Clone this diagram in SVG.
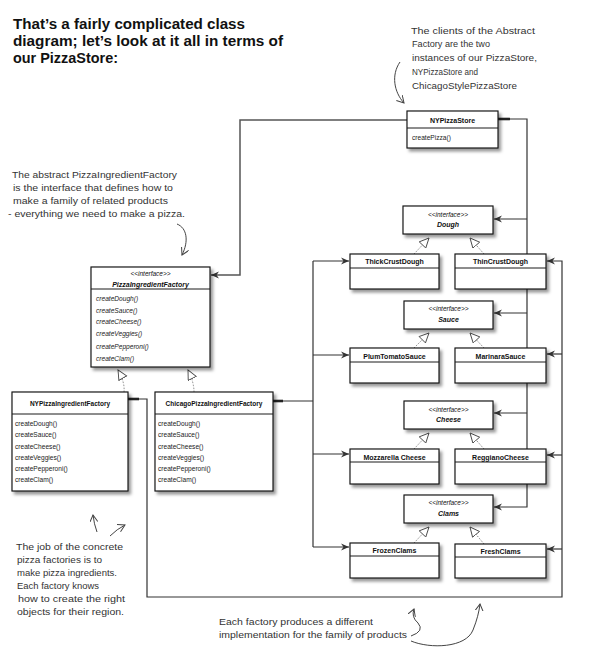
<svg xmlns="http://www.w3.org/2000/svg" width="609" height="656" viewBox="0 0 609 656">
<style>
.box{fill:#fff;stroke:#1a1a1a;stroke-width:1.2;filter:url(#sh)}
.dv{stroke:#1a1a1a;stroke-width:1}
.cn{font-family:"Liberation Sans",Arial,sans-serif;font-size:7px;font-weight:bold;text-anchor:middle;fill:#111}
.fn{font-family:"Liberation Sans",Arial,sans-serif;font-size:6.5px;font-weight:bold;text-anchor:middle;fill:#111}
.st{font-family:"Liberation Sans",Arial,sans-serif;font-size:6.5px;font-style:italic;text-anchor:middle;fill:#111}
.m{font-family:"Liberation Sans",Arial,sans-serif;font-size:6.6px;fill:#222}
.it{font-style:italic}
.conn{fill:none;stroke:#333;stroke-width:1.2}
.gry{fill:none;stroke:#555;stroke-width:1.5}
.stub{fill:none;stroke:#222;stroke-width:2.6}
.real{fill:none;stroke:#777;stroke-width:0.9;stroke-dasharray:1.5 1.5}
.hand{font-family:"Liberation Sans",Arial,sans-serif;font-size:9px;fill:#333}
.ha{fill:none;stroke:#444;stroke-width:1}
.title{font-family:"Liberation Sans",Arial,sans-serif;font-weight:bold;font-size:14px;fill:#111}
</style>
<defs>
<filter id="sh" x="-10%" y="-10%" width="130%" height="140%">
<feDropShadow dx="2.5" dy="3" stdDeviation="1.8" flood-color="#000" flood-opacity="0.4"/>
</filter>
<marker id="arr" markerWidth="9" markerHeight="8" refX="8" refY="4" orient="auto" markerUnits="userSpaceOnUse">
<path d="M0,0.5 L8,4 L0,7.5 L2.5,4 z" fill="#333"/>
</marker>
<marker id="tri" markerWidth="12" markerHeight="11" refX="10" refY="5" orient="auto" markerUnits="userSpaceOnUse">
<path d="M0.5,0.5 L10,5 L0.5,9.5 z" fill="#fff" stroke="#444" stroke-width="0.9"/>
</marker>
<marker id="va" markerWidth="9" markerHeight="9" refX="7" refY="4" orient="auto" markerUnits="userSpaceOnUse">
<path d="M0,0 L7,4 L0,8" fill="none" stroke="#444" stroke-width="1"/>
</marker>
</defs>
<rect width="609" height="656" fill="#fff"/>

<g id="title">
<text class="title" x="13" y="29" textLength="232" lengthAdjust="spacingAndGlyphs">That’s a fairly complicated class</text>
<text class="title" x="13" y="46" textLength="270" lengthAdjust="spacingAndGlyphs">diagram; let’s look at it all in terms of</text>
<text class="title" x="13" y="63" textLength="105" lengthAdjust="spacingAndGlyphs">our PizzaStore:</text>
</g>

<g id="annotations">
<text class="hand" x="411" y="34" textLength="124" lengthAdjust="spacingAndGlyphs">The clients of the Abstract</text>
<text class="hand" x="412" y="47" textLength="78" lengthAdjust="spacingAndGlyphs">Factory are the two</text>
<text class="hand" x="412" y="61" textLength="125" lengthAdjust="spacingAndGlyphs">instances of our PizzaStore,</text>
<text class="hand" x="412" y="75" textLength="66" lengthAdjust="spacingAndGlyphs">NYPizzaStore and</text>
<text class="hand" x="412" y="89" textLength="105" lengthAdjust="spacingAndGlyphs">ChicagoStylePizzaStore</text>
<path class="ha" d="M400,62 C391,75 394,92 404,103" marker-end="url(#va)"/>

<text class="hand" x="12" y="178" textLength="165" lengthAdjust="spacingAndGlyphs">The abstract PizzaIngredientFactory</text>
<text class="hand" x="13" y="191" textLength="160" lengthAdjust="spacingAndGlyphs">is the interface that defines how to</text>
<text class="hand" x="13" y="204" textLength="155" lengthAdjust="spacingAndGlyphs">make a family of related products</text>
<text class="hand" x="8" y="217" textLength="177" lengthAdjust="spacingAndGlyphs">- everything we need to make a pizza.</text>
<path class="ha" d="M177,224 C187,228 189,241 182,255" marker-end="url(#va)"/>

<text class="hand" x="16" y="550" textLength="107" lengthAdjust="spacingAndGlyphs">The job of the concrete</text>
<text class="hand" x="17" y="563" textLength="85" lengthAdjust="spacingAndGlyphs">pizza factories is to</text>
<text class="hand" x="17" y="576" textLength="100" lengthAdjust="spacingAndGlyphs">make pizza ingredients.</text>
<text class="hand" x="17" y="589" textLength="82" lengthAdjust="spacingAndGlyphs">Each factory knows</text>
<text class="hand" x="18" y="602" textLength="107" lengthAdjust="spacingAndGlyphs">how to create the right</text>
<text class="hand" x="17" y="615" textLength="107" lengthAdjust="spacingAndGlyphs">objects for their region.</text>
<path class="ha" d="M97,532 Q94,524 93,515" marker-end="url(#va)"/>
<path class="ha" d="M110,536 Q117,529 125,525" marker-end="url(#va)"/>

<text class="hand" x="219" y="625" textLength="154" lengthAdjust="spacingAndGlyphs">Each factory produces a different</text>
<text class="hand" x="219" y="638" textLength="188" lengthAdjust="spacingAndGlyphs">implementation for the family of products</text>
<path class="ha" d="M411,636 Q425,631 418,623 Q411,617 414,609" marker-end="url(#va)"/>
<path class="ha" d="M411,641 C430,649 466,648 473,630 C477,620 479,612 480,604" marker-end="url(#va)"/>
</g>

<g id="connectors">
<path class="gry" d="M407,120 H240 V275 H211" marker-end="url(#arr)"/>
<path class="conn" d="M498,119 H527 V507 H494" marker-end="url(#arr)"/>
<path class="stub" d="M498,119 H510"/>
<path class="conn" d="M527,219 H494" marker-end="url(#arr)"/>
<path class="conn" d="M527,313 H494" marker-end="url(#arr)"/>
<path class="conn" d="M527,413 H494" marker-end="url(#arr)"/>

<path class="conn" d="M128,399 H147 V597 H562 V261 H547" marker-end="url(#arr)"/>
<path class="stub" d="M128,399 H139"/>
<path class="conn" d="M562,354 H547" marker-end="url(#arr)"/>
<path class="conn" d="M562,455 H547" marker-end="url(#arr)"/>
<path class="conn" d="M562,549 H547" marker-end="url(#arr)"/>

<path class="conn" d="M273,401 H313"/>
<path class="stub" d="M273,401 H283"/>
<path class="conn" d="M313,261 V547"/>
<path class="conn" d="M313,261 H349" marker-end="url(#arr)"/>
<path class="conn" d="M313,355 H349" marker-end="url(#arr)"/>
<path class="conn" d="M313,454 H349" marker-end="url(#arr)"/>
<path class="conn" d="M313,547 H349" marker-end="url(#arr)"/>

<path class="real" d="M124,392 Q125,382 118,370" marker-end="url(#tri)"/>
<path class="real" d="M194,392 Q194,382 188,370" marker-end="url(#tri)"/>

<path class="real" d="M414,254 L429,238" marker-end="url(#tri)"/>
<path class="real" d="M484,254 L470,238" marker-end="url(#tri)"/>
<path class="real" d="M414,348 L429,333" marker-end="url(#tri)"/>
<path class="real" d="M484,348 L470,333" marker-end="url(#tri)"/>
<path class="real" d="M414,449 L429,433" marker-end="url(#tri)"/>
<path class="real" d="M484,449 L470,433" marker-end="url(#tri)"/>
<path class="real" d="M414,543 L429,527" marker-end="url(#tri)"/>
<path class="real" d="M484,544 L470,527" marker-end="url(#tri)"/>
</g>

<g id="NYPizzaStore">
<rect class="box" x="407" y="111" width="91" height="37"/>
<line class="dv" x1="407" y1="128" x2="498" y2="128"/>
<text class="cn" x="452.5" y="123">NYPizzaStore</text>
<text class="m" x="412" y="139.5">createPizza()</text>
</g>

<g id="PizzaIngredientFactory">
<rect class="box" x="91" y="267" width="119" height="100"/>
<line class="dv" x1="91" y1="289" x2="210" y2="289"/>
<text class="st" x="150.5" y="276">&lt;&lt;interface&gt;&gt;</text>
<text class="cn it" x="150.5" y="286.5">PizzaIngredientFactory</text>
<text class="m it" x="96" y="301">createDough()</text>
<text class="m it" x="96" y="312.5">createSauce()</text>
<text class="m it" x="96" y="324">createCheese()</text>
<text class="m it" x="96" y="336">createVeggies()</text>
<text class="m it" x="96" y="349">createPepperoni()</text>
<text class="m it" x="96" y="361">createClam()</text>
</g>

<g id="NYPizzaIngredientFactory">
<rect class="box" x="12" y="392" width="116" height="99"/>
<line class="dv" x1="12" y1="414" x2="128" y2="414"/>
<text class="fn" x="70" y="406">NYPizzaIngredientFactory</text>
<text class="m" x="15" y="426">createDough()</text>
<text class="m" x="15" y="437">createSauce()</text>
<text class="m" x="15" y="448.5">createCheese()</text>
<text class="m" x="15" y="459.5">createVeggies()</text>
<text class="m" x="15" y="471">createPepperoni()</text>
<text class="m" x="15" y="482">createClam()</text>
</g>

<g id="ChicagoPizzaIngredientFactory">
<rect class="box" x="155" y="392" width="118" height="99"/>
<line class="dv" x1="155" y1="414" x2="273" y2="414"/>
<text class="fn" x="214" y="406">ChicagoPizzaIngredientFactory</text>
<text class="m" x="158" y="426">createDough()</text>
<text class="m" x="158" y="437">createSauce()</text>
<text class="m" x="158" y="448.5">createCheese()</text>
<text class="m" x="158" y="459.5">createVeggies()</text>
<text class="m" x="158" y="471">createPepperoni()</text>
<text class="m" x="158" y="482">createClam()</text>
</g>

<g id="Dough">
<rect class="box" x="403" y="206" width="90" height="28"/>
<text class="st" x="448" y="216.5">&lt;&lt;interface&gt;&gt;</text>
<text class="cn it" x="448" y="227">Dough</text>
</g>
<g id="ThickCrustDough">
<rect class="box" x="350" y="254" width="89" height="35"/>
<line class="dv" x1="350" y1="268" x2="439" y2="268"/>
<text class="cn" x="394.5" y="264">ThickCrustDough</text>
</g>
<g id="ThinCrustDough">
<rect class="box" x="455" y="254" width="91" height="35"/>
<line class="dv" x1="455" y1="268" x2="546" y2="268"/>
<text class="cn" x="500.5" y="264">ThinCrustDough</text>
</g>

<g id="Sauce">
<rect class="box" x="404" y="301" width="89" height="28"/>
<text class="st" x="448.5" y="311">&lt;&lt;interface&gt;&gt;</text>
<text class="cn it" x="448.5" y="322">Sauce</text>
</g>
<g id="PlumTomatoSauce">
<rect class="box" x="350" y="348" width="89" height="35"/>
<line class="dv" x1="350" y1="362" x2="439" y2="362"/>
<text class="cn" x="394.5" y="358.5">PlumTomatoSauce</text>
</g>
<g id="MarinaraSauce">
<rect class="box" x="455" y="348" width="91" height="35"/>
<line class="dv" x1="455" y1="362" x2="546" y2="362"/>
<text class="cn" x="500.5" y="358.5">MarinaraSauce</text>
</g>

<g id="Cheese">
<rect class="box" x="404" y="401" width="89" height="28"/>
<text class="st" x="448.5" y="411.5">&lt;&lt;interface&gt;&gt;</text>
<text class="cn it" x="448.5" y="422">Cheese</text>
</g>
<g id="MozzarellaCheese">
<rect class="box" x="350" y="449" width="89" height="35"/>
<line class="dv" x1="350" y1="462" x2="439" y2="462"/>
<text class="cn" x="394.5" y="459.5">Mozzarella Cheese</text>
</g>
<g id="ReggianoCheese">
<rect class="box" x="455" y="449" width="91" height="35"/>
<line class="dv" x1="455" y1="462" x2="546" y2="462"/>
<text class="cn" x="500.5" y="459.5">ReggianoCheese</text>
</g>

<g id="Clams">
<rect class="box" x="404" y="495" width="89" height="28"/>
<text class="st" x="448.5" y="505">&lt;&lt;interface&gt;&gt;</text>
<text class="cn it" x="448.5" y="515.5">Clams</text>
</g>
<g id="FrozenClams">
<rect class="box" x="350" y="543" width="89" height="35"/>
<line class="dv" x1="350" y1="556" x2="439" y2="556"/>
<text class="cn" x="394.5" y="553">FrozenClams</text>
</g>
<g id="FreshClams">
<rect class="box" x="455" y="544" width="91" height="34"/>
<line class="dv" x1="455" y1="557" x2="546" y2="557"/>
<text class="cn" x="500.5" y="554">FreshClams</text>
</g>
</svg>
